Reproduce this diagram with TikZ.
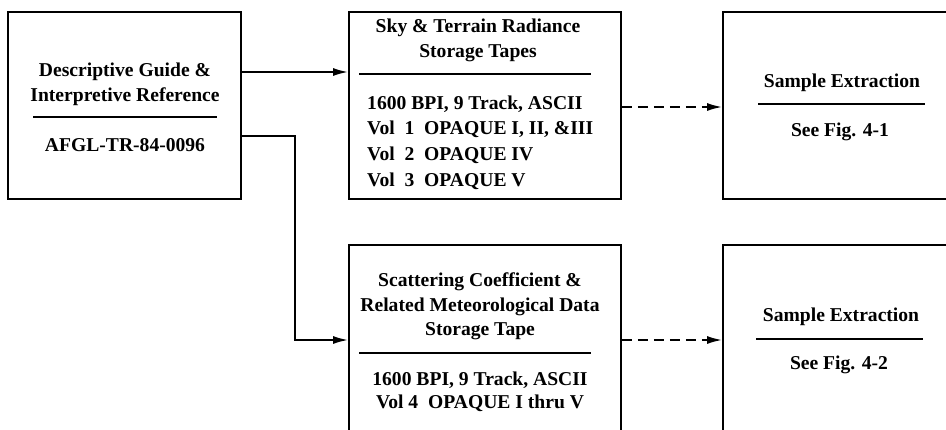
\documentclass[tikz,border=0pt]{standalone}
\usepackage{fontspec}
\setmainfont{Liberation Serif}
\usetikzlibrary{arrows.meta}
\begin{document}
\begin{tikzpicture}[x=1pt,y=-1pt,
  blockbox/.style={draw,line width=1.8pt,minimum width=#1,inner sep=0pt},
  txt/.style={font=\fontsize{19.6}{25}\selectfont\bfseries,align=center,inner sep=0pt},
  rulel/.style={line width=1.3pt},
  arr/.style={line width=1.8pt,-{Latex[length=15pt,width=8pt]}},
  darr/.style={arr,dash pattern=on 10pt off 6pt}]
\useasboundingbox (0,0) rectangle (946,429);
\clip (0,0) rectangle (946,429);
% boxes
\node[blockbox=233pt,minimum height=187pt] (guide) at (124.5,105.5) {};
\node[blockbox=272pt,minimum height=187pt] (sky) at (485,105.5) {};
\node[blockbox=237pt,minimum height=187pt] (ext1) at (841.5,105.5) {};
\node[blockbox=272pt,minimum height=200pt] (scat) at (485,345) {};
\node[blockbox=237pt,minimum height=200pt] (ext2) at (841.5,345) {};
% texts
\node[txt] (g1) at (125,84.5) {Descriptive Guide \&\\Interpretive Reference};
\draw[rulel] (33,117) -- (217,117);
\node[txt] (g2) at (125,145) {AFGL-TR-84-0096};
\node[txt] (s1) at (478,40.5) {Sky \& Terrain Radiance\\Storage Tapes};
\draw[rulel] (359,74) -- (591,74);
\node[txt,align=left,anchor=west,font=\fontsize{19.6}{25.7}\selectfont\bfseries] (s2) at (367,142.5)
  {1600 BPI, 9 Track, ASCII\\Vol\enspace1\enspace OPAQUE I, II, \&III\\Vol\enspace2\enspace OPAQUE IV\\Vol\enspace3\enspace OPAQUE V};
\node[txt] (e1a) at (842,83) {Sample Extraction};
\draw[rulel] (758,104) -- (925,104);
\node[txt] (e1b) at (840,132) {See Fig. 4-1};
\node[txt,font=\fontsize{19.6}{24.5}\selectfont\bfseries] (c1) at (480,306.5) {Scattering Coefficient \&\\Related Meteorological Data\\Storage Tape};
\draw[rulel] (359,353) -- (591,353);
\node[txt,font=\fontsize{19.6}{23}\selectfont\bfseries] (c2) at (480,391.5) {1600 BPI, 9 Track, ASCII\\Vol 4\enspace OPAQUE I thru V};
\node[txt] (e2a) at (841,317) {Sample Extraction};
\draw[rulel] (756,339) -- (923,339);
\node[txt] (e2b) at (839,365) {See Fig. 4-2};
% connectors
\coordinate (j1) at (295,136);
\draw[arr] (guide.east |- 0,72) -- (sky.west |- 0,72);
\draw[arr] (guide.east |- j1) -- (j1) -- (j1 |- 0,340) -- (scat.west |- 0,340);
\draw[darr] (sky.east |- 0,107) -- (ext1.west |- 0,107);
\draw[darr] (scat.east |- 0,340) -- (ext2.west |- 0,340);
\end{tikzpicture}
\end{document}
